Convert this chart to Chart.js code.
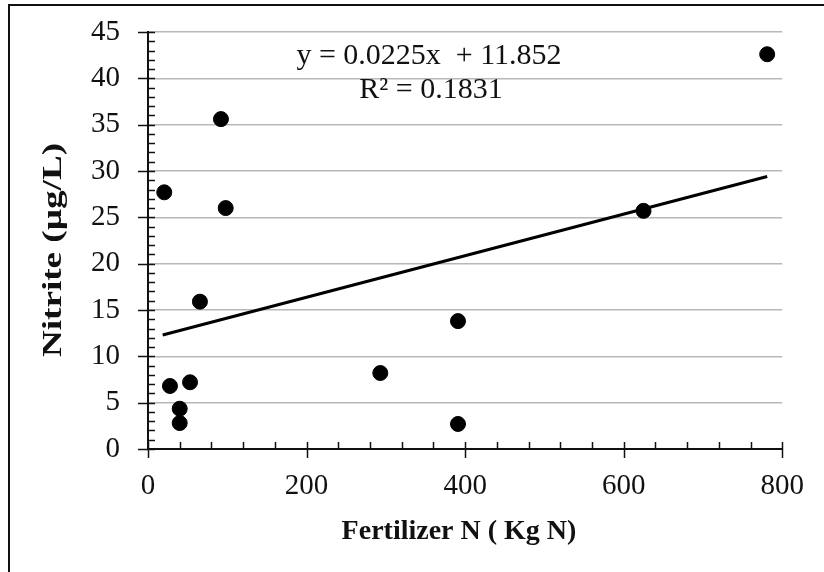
<!DOCTYPE html>
<html>
<head>
<meta charset="utf-8">
<script src="https://cdn.jsdelivr.net/npm/chart.js@4.4.0/dist/chart.umd.min.js"></script>
<style>
  html, body { margin: 0; padding: 0; background: #fff; }
  #wrap { position: relative; width: 824px; height: 572px; overflow: hidden; }
  #myChart { display: block; }
  #frame { position: absolute; left: 8px; top: 4px; width: 900px; height: 700px; border: 2px solid #111; pointer-events: none; }
</style>
</head>
<body>
<div id="wrap">
  <canvas id="myChart" width="824" height="572"></canvas>
  <div id="frame"></div>
</div>
<script>
// fertilizer N (Kg N) vs nitrite (ug/L)
var fertN   = [20.5, 92, 98, 65.5, 27.7, 53, 40, 40, 293, 391, 391, 625, 781];
var nitrite = [27.7, 35.6, 26.0, 15.9, 6.8, 7.2, 4.35, 2.8, 8.2, 13.8, 2.7, 25.7, 42.6];

// ends of the linear trendline
var trendX = [18.5, 781];
var trendY = [12.3, 29.4];

var eqText = 'y = 0.0225x  + 11.852';
var r2Text = 'R\u00b2 = 0.1831';
var xTitle = 'Fertilizer N ( Kg N)';
var yTitle = 'Nitrite (\u00b5g/L)';

var serif = '"Liberation Serif", "Times New Roman", serif';

function toPoints(xs, ys) {
  return xs.map(function (x, i) { return { x: x, y: ys[i] }; });
}

// inward minor ticks + crossing major ticks, like the Excel axis
var tickPlugin = {
  id: 'tickMarks',
  beforeDatasetsDraw: function (chart) {
    var ctx = chart.ctx, a = chart.chartArea;
    var xs = chart.scales.x, ys = chart.scales.y;
    ctx.save();
    ctx.strokeStyle = '#111';
    ctx.lineWidth = 1.5;
    ctx.beginPath();
    ys.ticks.forEach(function (t) {
      var p = Math.round(ys.getPixelForValue(t.value)) + 0.5;
      var major = t.value % 5 === 0;
      ctx.moveTo(a.left - (major ? 10 : 0), p);
      ctx.lineTo(a.left + 7, p);
    });
    xs.ticks.forEach(function (t) {
      var p = Math.round(xs.getPixelForValue(t.value)) + 0.5;
      var major = t.value % 200 === 0;
      ctx.moveTo(p, a.bottom + (major ? 9 : 0));
      ctx.lineTo(p, a.bottom - 7);
    });
    ctx.stroke();
    ctx.restore();
  }
};

var textPlugin = {
  id: 'texts',
  afterDraw: function (chart) {
    var ctx = chart.ctx;
    ctx.save();
    ctx.fillStyle = '#111';
    ctx.textAlign = 'center';
    ctx.textBaseline = 'middle';
    ctx.font = '30px ' + serif;
    ctx.fillText(eqText, 429, 56);
    ctx.fillText(r2Text, 431, 90);
    ctx.font = 'bold 28px ' + serif;
    ctx.fillText(xTitle, 459, 532);
    ctx.translate(54, 250);
    ctx.rotate(-Math.PI / 2);
    ctx.font = 'bold 27px ' + serif;
    var w = ctx.measureText(yTitle).width;
    ctx.scale(214 / w, 1);
    ctx.fillText(yTitle, 0, 0);
    ctx.restore();
  }
};

var ctx = document.getElementById('myChart').getContext('2d');
var chart = new Chart(ctx, {
  type: 'scatter',
  data: {
    datasets: [{
      label: 'Nitrite',
      data: toPoints(fertN, nitrite),
      backgroundColor: '#000',
      borderColor: '#000',
      pointRadius: 7.5,
      pointHoverRadius: 7.5,
      order: 1
    }, {
      type: 'line',
      label: 'Linear',
      data: toPoints(trendX, trendY),
      borderColor: '#000',
      borderWidth: 3,
      pointRadius: 0,
      fill: false,
      order: 2
    }]
  },
  plugins: [tickPlugin, textPlugin],
  options: {
    responsive: false,
    animation: false,
    events: [],
    layout: { padding: { top: 32, right: 41, bottom: 0, left: 0 } },
    plugins: { legend: { display: false }, tooltip: { enabled: false } },
    scales: {
      x: {
        type: 'linear',
        min: 0,
        max: 800,
        afterFit: function (s) { s.height = 123; },
        afterBuildTicks: function (s) {
          s.ticks = [];
          for (var v = 0; v <= 800; v += 40) s.ticks.push({ value: v });
        },
        ticks: {
          autoSkip: false,
          maxRotation: 0,
          padding: 20,
          color: '#111',
          font: { family: serif, size: 29 },
          callback: function (v) { return v % 200 === 0 ? v : ''; }
        },
        grid: { display: false, drawTicks: false },
        border: { display: true, color: '#111', width: 2 }
      },
      y: {
        min: 0,
        max: 45,
        afterFit: function (s) {
          s.width = 148;
          s.paddingTop = 0;
          s.paddingBottom = 0;
        },
        afterBuildTicks: function (s) {
          s.ticks = [];
          for (var v = 0; v <= 45; v += 1) s.ticks.push({ value: v });
        },
        ticks: {
          autoSkip: false,
          padding: 28,
          color: '#111',
          font: { family: serif, size: 29 },
          callback: function (v) { return v % 5 === 0 ? v : ''; }
        },
        grid: {
          drawTicks: false,
          color: function (c) { return c.tick && c.tick.value % 5 === 0 && c.tick.value > 0 ? '#b8b8b8' : 'rgba(0,0,0,0)'; },
          lineWidth: 1.5
        },
        border: { display: true, color: '#111', width: 2 }
      }
    }
  }
});
</script>
</body>
</html>
